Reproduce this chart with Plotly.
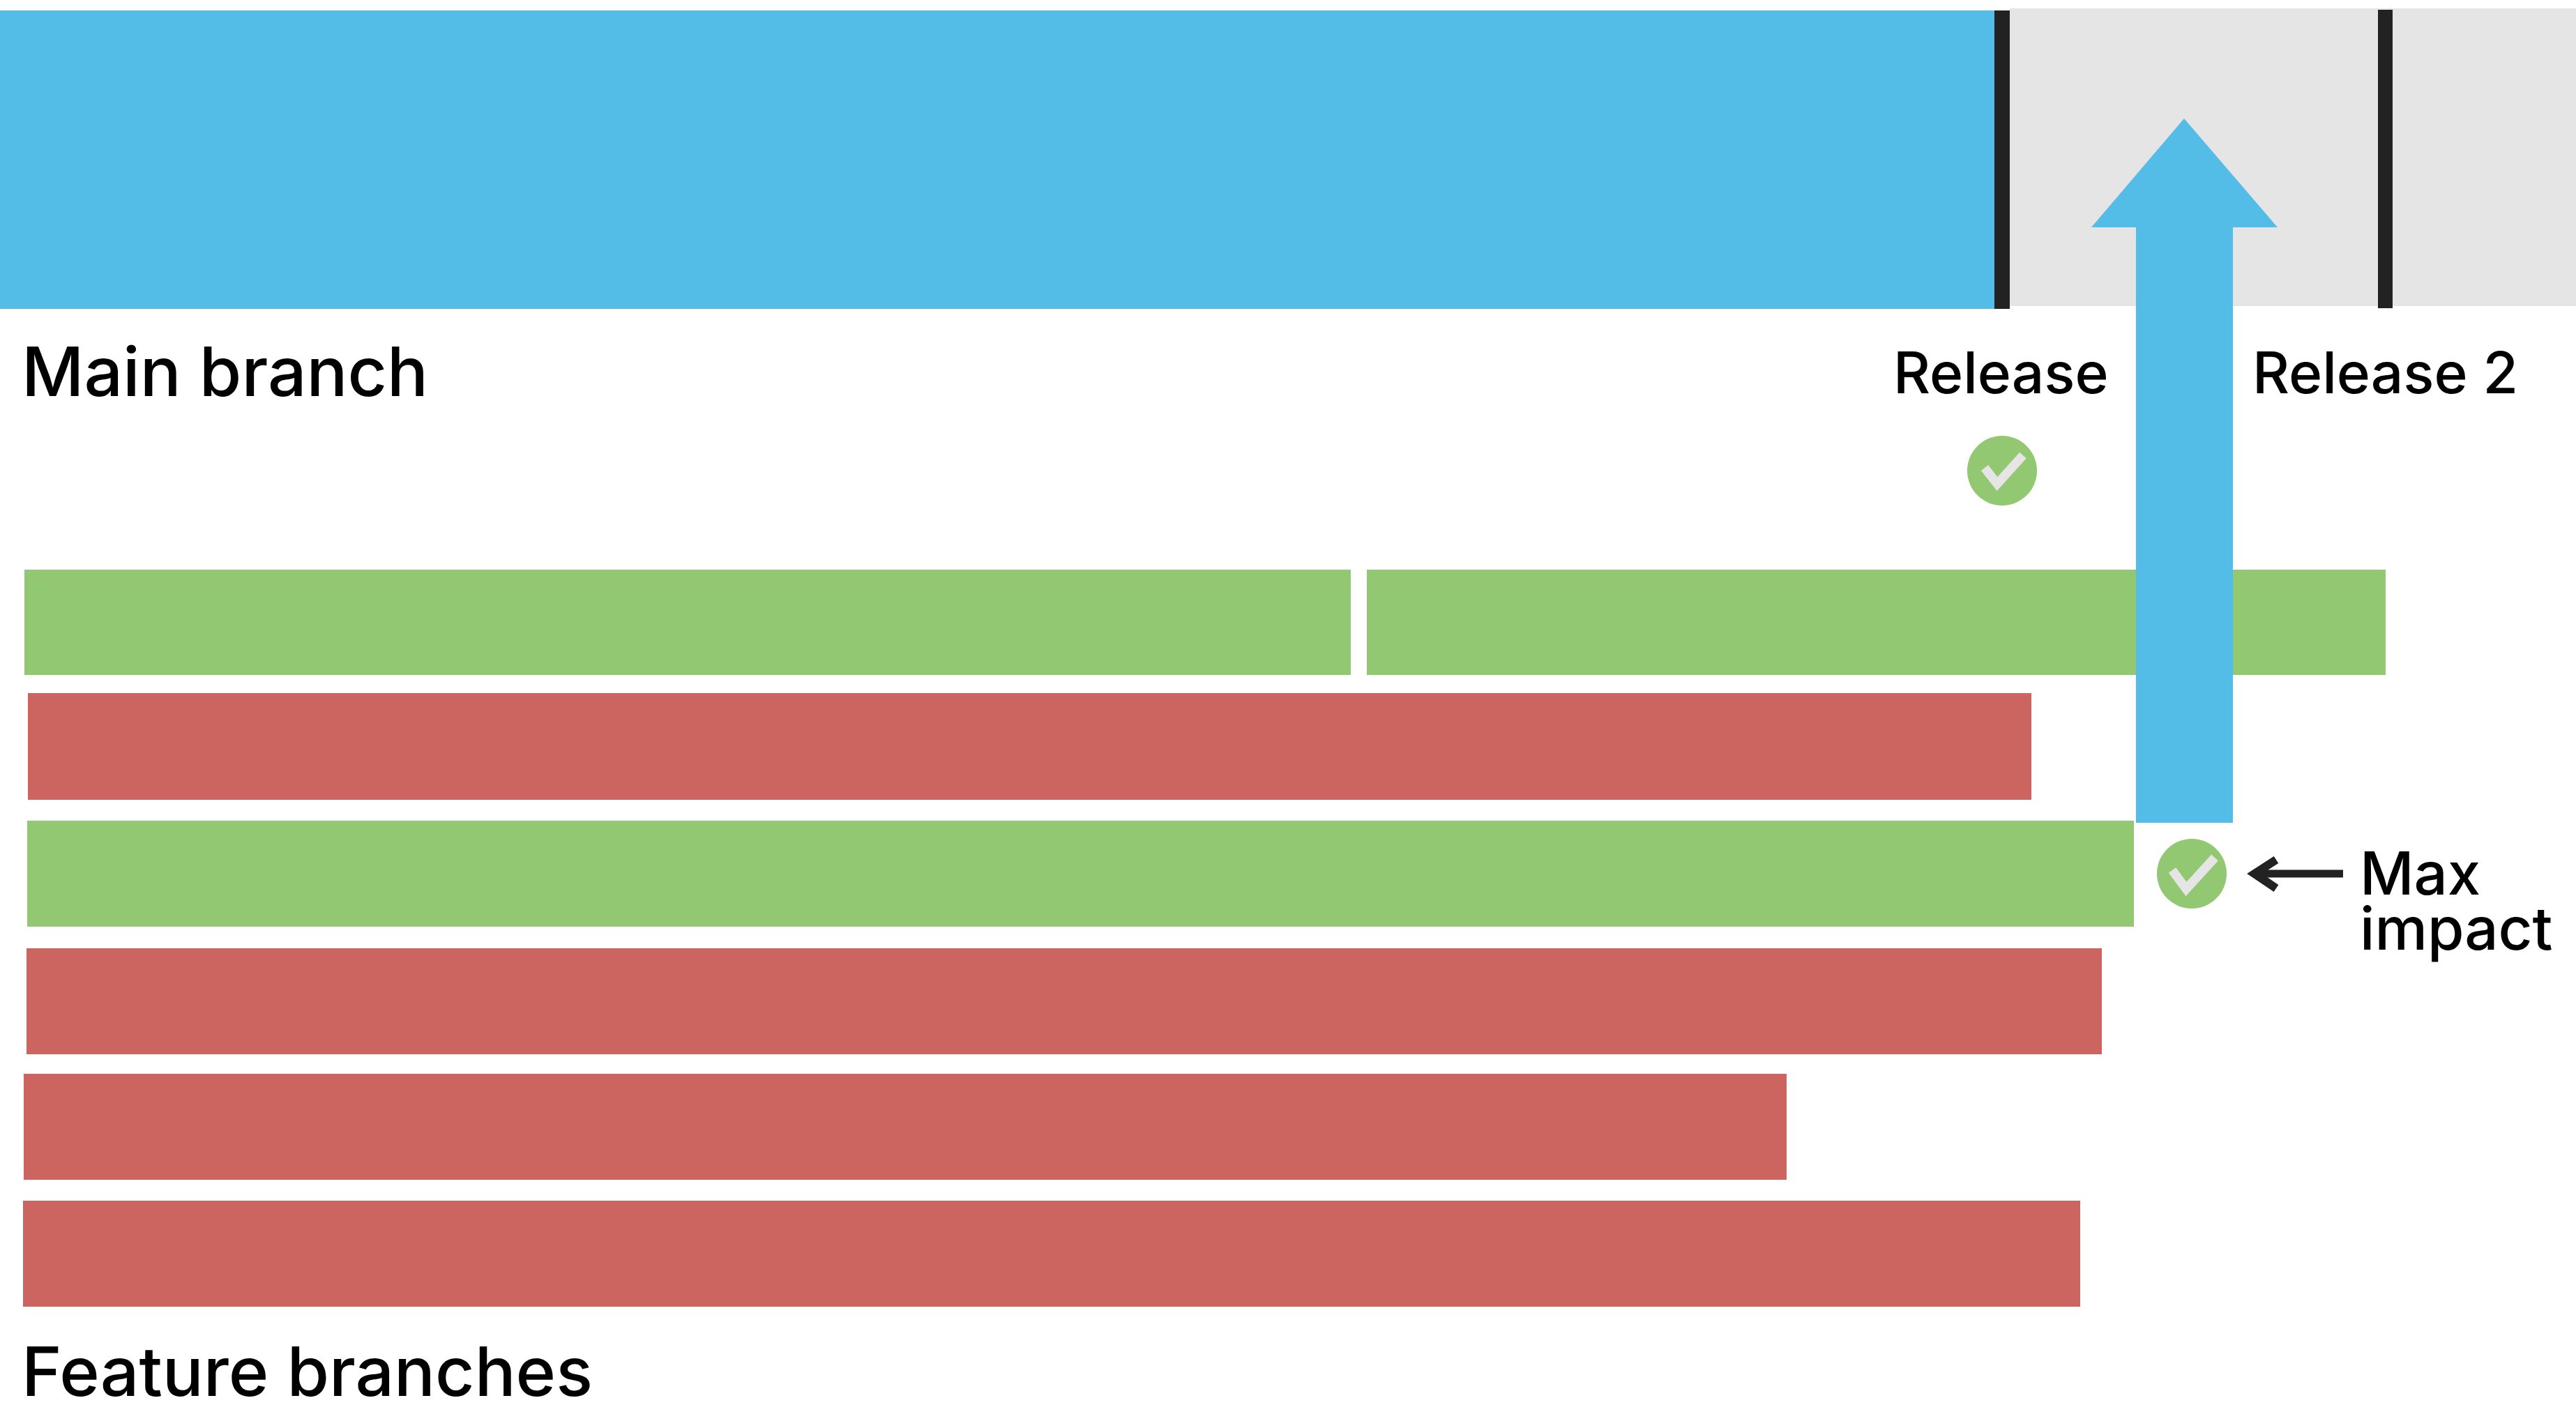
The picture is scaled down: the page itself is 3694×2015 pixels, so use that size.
import plotly.graph_objects as go

W, H = 3694, 2015
BLUE, GREEN, RED, GREY, DARK = "#53BCE7", "#93C873", "#CC6560", "#E5E5E5", "#222222"

# timeline bars
main_start = [0, 2882]
main_end = [2860, 3694]
main_top = [15, 12]
main_bottom = [443, 439]
main_colors = [BLUE, GREY]

# releases
release_start = [2860, 3410]
release_end = [2882, 3431]
release_top = [15, 14]
release_bottom = [443, 442]

# feature branches
branch_start = [35, 1960, 40, 39, 38, 34, 33]
branch_end = [1937, 3421, 2913, 3060, 3014, 2562, 2983]
branch_top = [817, 817, 994, 1177, 1360, 1540, 1722]
branch_bottom = [968, 968, 1147, 1329, 1512, 1692, 1874]
branch_colors = [GREEN, GREEN, RED, GREEN, RED, RED, RED]

# impact arrow
impact_x = [3132, 3266, 3202, 3202, 3063, 3063, 2999, 3132]
impact_y = [170, 326, 326, 1180, 1180, 326, 326, 170]

# check badges
badge_x = [2871, 3143]
badge_y = [675, 1253]
check_x = [[2846, 2864, 2901], [3115, 3135, 3176]]
check_y = [[671, 694, 653], [1248, 1275, 1230]]

# pointer
pointer_shaft_x = [3234, 3360]
pointer_shaft_y = [1253, 1253]
pointer_head_x = [3264, 3233, 3264]
pointer_head_y = [1233, 1253, 1274]

# labels
label_text = ["Main branch", "Release", "Release 2", "Max", "impact", "Feature branches"]
label_x = [31, 2715, 3230, 3384, 3384, 31]
label_baseline = [564, 560, 560, 1279, 1358, 1998]
label_size = [98, 82, 82, 85, 85, 98]
FONT = "Inter"
DESCENT = 0.29


def add_bars(fig, start, end, top, bottom, colors, name):
    fig.add_trace(go.Bar(
        orientation="h", name=name,
        base=start,
        x=[e - s for s, e in zip(start, end)],
        y=[(t + b) / 2 for t, b in zip(top, bottom)],
        width=[b - t for t, b in zip(top, bottom)],
        marker=dict(color=colors, line=dict(width=0)),
        hoverinfo="skip",
    ))


fig = go.Figure()
add_bars(fig, main_start, main_end, main_top, main_bottom, main_colors, "Main branch")
add_bars(fig, release_start, release_end, release_top, release_bottom, [DARK, DARK], "Releases")
add_bars(fig, branch_start, branch_end, branch_top, branch_bottom, branch_colors, "Feature branches")

fig.add_trace(go.Scatter(x=impact_x, y=impact_y, mode="lines", fill="toself", fillcolor=BLUE,
                         line=dict(width=0, color=BLUE), hoverinfo="skip"))
fig.add_trace(go.Scatter(x=badge_x, y=badge_y, mode="markers",
                         marker=dict(size=100, color=GREEN, line=dict(width=0)), hoverinfo="skip"))
for cx, cy in zip(check_x, check_y):
    fig.add_trace(go.Scatter(x=cx, y=cy, mode="lines", line=dict(color=GREY, width=13),
                             hoverinfo="skip"))
fig.add_trace(go.Scatter(x=pointer_shaft_x, y=pointer_shaft_y, mode="lines",
                         line=dict(color=DARK, width=11), hoverinfo="skip"))
fig.add_trace(go.Scatter(x=pointer_head_x, y=pointer_head_y, mode="lines",
                         line=dict(color=DARK, width=12), hoverinfo="skip"))

for t, x, b, s in zip(label_text, label_x, label_baseline, label_size):
    fig.add_annotation(x=x, y=b, yshift=-s * DESCENT, text=t, showarrow=False, xanchor="left", yanchor="bottom",
                       xref="x", yref="y", borderpad=0, borderwidth=0,
                       font=dict(family=FONT, size=s, color="#000000", weight=500))

fig.update_layout(
    width=W, height=H, margin=dict(l=0, r=0, t=0, b=0), barmode="overlay",
    showlegend=False, plot_bgcolor="white", paper_bgcolor="white",
    xaxis=dict(range=[0, W], visible=False, fixedrange=True),
    yaxis=dict(range=[H, 0], visible=False, fixedrange=True),
)
fig.write_html("out.html", config=dict(displayModeBar=False),
               post_script="document.body.style.margin='0';document.body.style.overflow='hidden';")
